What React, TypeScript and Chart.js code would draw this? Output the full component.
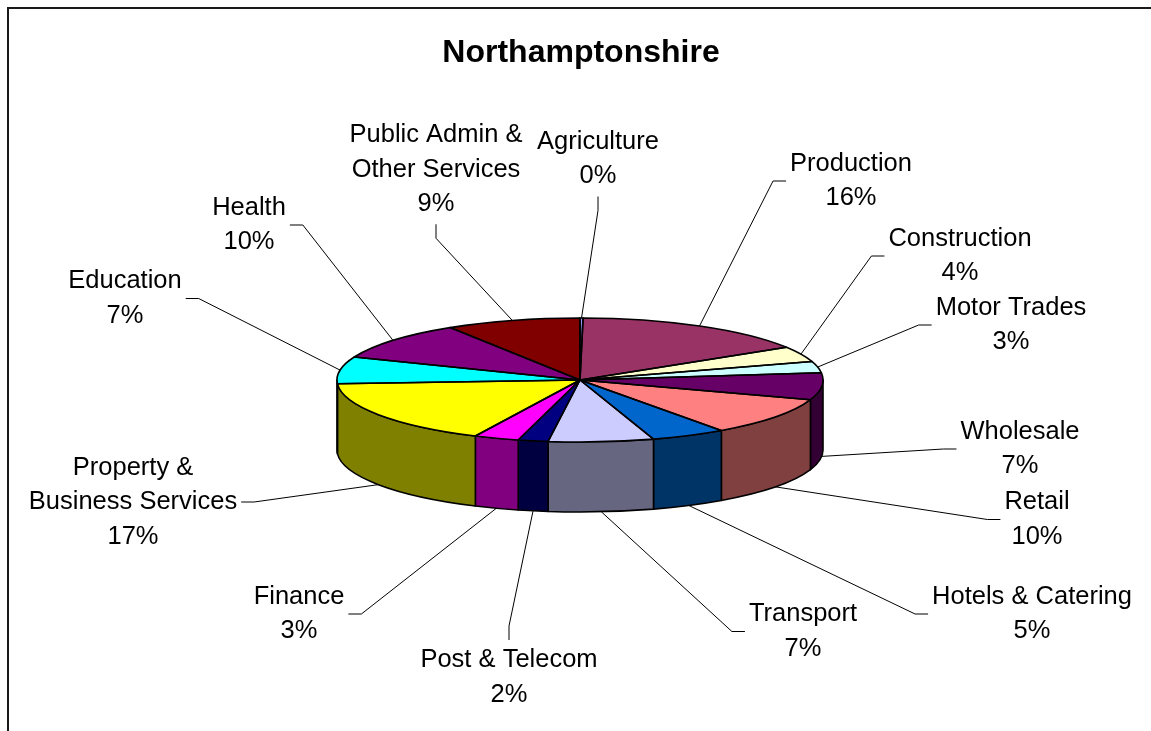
import React, { useEffect, useRef } from 'react';
import { Chart, registerables } from 'chart.js';

Chart.register(...registerables);

// ---------- data ----------
const TITLE = 'Northamptonshire';
const CATEGORIES = [
  'Agriculture', 'Production', 'Construction', 'Motor Trades', 'Wholesale', 'Retail',
  'Hotels & Catering', 'Transport', 'Post & Telecom', 'Finance',
  'Property & Business Services', 'Education', 'Health', 'Public Admin & Other Services',
];
const LABEL_LINES = [
  ['Agriculture'], ['Production'], ['Construction'], ['Motor Trades'], ['Wholesale'], ['Retail'],
  ['Hotels & Catering'], ['Transport'], ['Post & Telecom'], ['Finance'],
  ['Property &', 'Business Services'], ['Education'], ['Health'], ['Public Admin &', 'Other Services'],
];
const VALUES = [0.2, 16, 4, 3, 7, 10, 5, 7, 2, 3, 17, 7, 10, 9];

// ---------- styles / layout ----------
const TOP_COLORS = [
  '#9999FF', '#993366', '#FFFFCC', '#CCFFFF', '#660066', '#FF8080',
  '#0066CC', '#CCCCFF', '#000080', '#FF00FF', '#FFFF00', '#00FFFF', '#800080', '#800000',
];
const SIDE_COLORS = [
  '#4D4D80', '#4D1A33', '#808066', '#668080', '#330033', '#804040',
  '#003366', '#666680', '#000040', '#800080', '#808000', '#008080', '#400040', '#400000',
];
// label block centres (x, y) and the side where the leader line attaches
const LABEL_X = [598, 851, 960, 1011, 1020, 1037, 1032, 803, 509, 299, 133, 125, 249, 436];
const LABEL_Y = [159, 181, 256, 325, 449, 519.5, 614, 631.5, 677.5, 614, 502, 298.5, 225, 169.5];
const STUB_SIDE = ['b', 'l', 'l', 'l', 'l', 'l', 'l', 'l', 't', 'r', 'r', 'r', 'r', 'b'];

const W = 1151;
const H = 731;
const PIE_RADIUS = 243;
const TILT = 62 / 243;
const DEPTH = 70;
const LINE_H = 34.5;
const FONT = '"Liberation Sans", Arial, sans-serif';

const pie3d = {
  id: 'pie3d',
  beforeDraw(chart: any) {
    const ctx = chart.ctx as CanvasRenderingContext2D;
    ctx.save();
    ctx.fillStyle = '#ffffff';
    ctx.fillRect(0, 0, W, H);
    ctx.strokeStyle = '#1a1a1a';
    ctx.lineWidth = 2;
    ctx.beginPath();
    ctx.moveTo(8, H + 10);
    ctx.lineTo(8, 8);
    ctx.lineTo(W + 10, 8);
    ctx.stroke();
    ctx.fillStyle = '#000';
    ctx.font = `bold 32px ${FONT}`;
    ctx.textAlign = 'center';
    ctx.textBaseline = 'alphabetic';
    ctx.fillText(TITLE, 581, 62);
    ctx.restore();
  },
  beforeDatasetsDraw(chart: any) {
    const ctx = chart.ctx as CanvasRenderingContext2D;
    const arcs = chart.getDatasetMeta(0).data;
    ctx.save();
    ctx.lineWidth = 1.6;
    ctx.strokeStyle = '#000';
    ctx.lineJoin = 'round';
    arcs.forEach((arc: any, i: number) => {
      const { x, y, startAngle, endAngle, outerRadius: R } = arc;
      const s = Math.max(startAngle, 0);
      const e = Math.min(endAngle, Math.PI);
      if (e <= s) return;
      ctx.beginPath();
      ctx.ellipse(x, y, R, R * TILT, 0, s, e);
      ctx.ellipse(x, y + DEPTH, R, R * TILT, 0, e, s, true);
      ctx.closePath();
      ctx.fillStyle = SIDE_COLORS[i];
      ctx.fill();
      ctx.stroke();
    });
    ctx.restore();
    const { x, y } = arcs[0];
    ctx.save();
    ctx.translate(x, y);
    ctx.scale(1, TILT);
    ctx.translate(-x, -y);
  },
  afterDatasetsDraw(chart: any) {
    const ctx = chart.ctx as CanvasRenderingContext2D;
    ctx.restore();
    const arcs = chart.getDatasetMeta(0).data;
    ctx.save();
    ctx.lineWidth = 1.6;
    ctx.strokeStyle = '#000';
    ctx.lineJoin = 'round';
    arcs.forEach((arc: any) => {
      const { x, y, startAngle, endAngle, outerRadius: R } = arc;
      ctx.beginPath();
      ctx.moveTo(x, y);
      ctx.ellipse(x, y, R, R * TILT, 0, startAngle, endAngle);
      ctx.closePath();
      ctx.stroke();
    });
    ctx.restore();

    // labels + leader lines
    const total = VALUES.reduce((a, b) => a + b, 0);
    ctx.save();
    ctx.font = `25.5px ${FONT}`;
    ctx.fillStyle = '#000';
    ctx.strokeStyle = '#000';
    ctx.lineWidth = 1;
    ctx.textAlign = 'center';
    ctx.textBaseline = 'middle';
    arcs.forEach((arc: any, i: number) => {
      const { x, y, startAngle, endAngle, outerRadius: R } = arc;
      const lines = [...LABEL_LINES[i], `${Math.round((VALUES[i] / total) * 100)}%`];
      const lx = LABEL_X[i];
      const ly = LABEL_Y[i];
      const n = lines.length;
      lines.forEach((t, k) => ctx.fillText(t, lx, ly + (k - (n - 1) / 2) * LINE_H));
      const maxW = Math.max(...lines.map((t) => ctx.measureText(t).width));
      const mid = (startAngle + endAngle) / 2;
      const ax = x + R * Math.cos(mid);
      let ay = y + R * TILT * Math.sin(mid);
      if (Math.sin(mid) > 0) ay += DEPTH;
      let ex = lx, ey = ly, sx = lx, sy = ly;
      const side = STUB_SIDE[i];
      if (side === 'l') { ex = lx - maxW / 2 - 4; sx = ex - 13; }
      else if (side === 'r') { ex = lx + maxW / 2 + 4; sx = ex + 13; }
      else if (side === 'b') { ey = ly + (n * LINE_H) / 2 + 3; sy = ey + 14; }
      else { ey = ly - (n * LINE_H) / 2 - 3; sy = ey - 14; }
      ctx.beginPath();
      ctx.moveTo(ax, ay);
      ctx.lineTo(sx, sy);
      ctx.lineTo(ex, ey);
      ctx.stroke();
    });
    ctx.restore();
  },
};

export default function App() {
  const ref = useRef<HTMLCanvasElement>(null);
  useEffect(() => {
    const chart = new Chart(ref.current!, {
      type: 'pie',
      data: {
        labels: CATEGORIES,
        datasets: [
          {
            data: VALUES,
            backgroundColor: TOP_COLORS,
            borderWidth: 0,
            hoverOffset: 0,
            radius: PIE_RADIUS,
            clip: false,
          } as any,
        ],
      },
      options: {
        responsive: false,
        maintainAspectRatio: false,
        animation: false,
        devicePixelRatio: 1,
        events: [],
        layout: { padding: { left: 300, right: 291, top: 200, bottom: 171 } },
        plugins: {
          legend: { display: false },
          tooltip: { enabled: false },
          title: { display: false },
        },
      },
      plugins: [pie3d],
    });
    return () => chart.destroy();
  }, []);
  return (
    <div style={{ position: 'fixed', left: 0, top: 0, width: W, height: H, overflow: 'hidden', background: '#fff' }}>
      <canvas ref={ref} width={W} height={H} style={{ display: 'block', width: W, height: H }} />
    </div>
  );
}
